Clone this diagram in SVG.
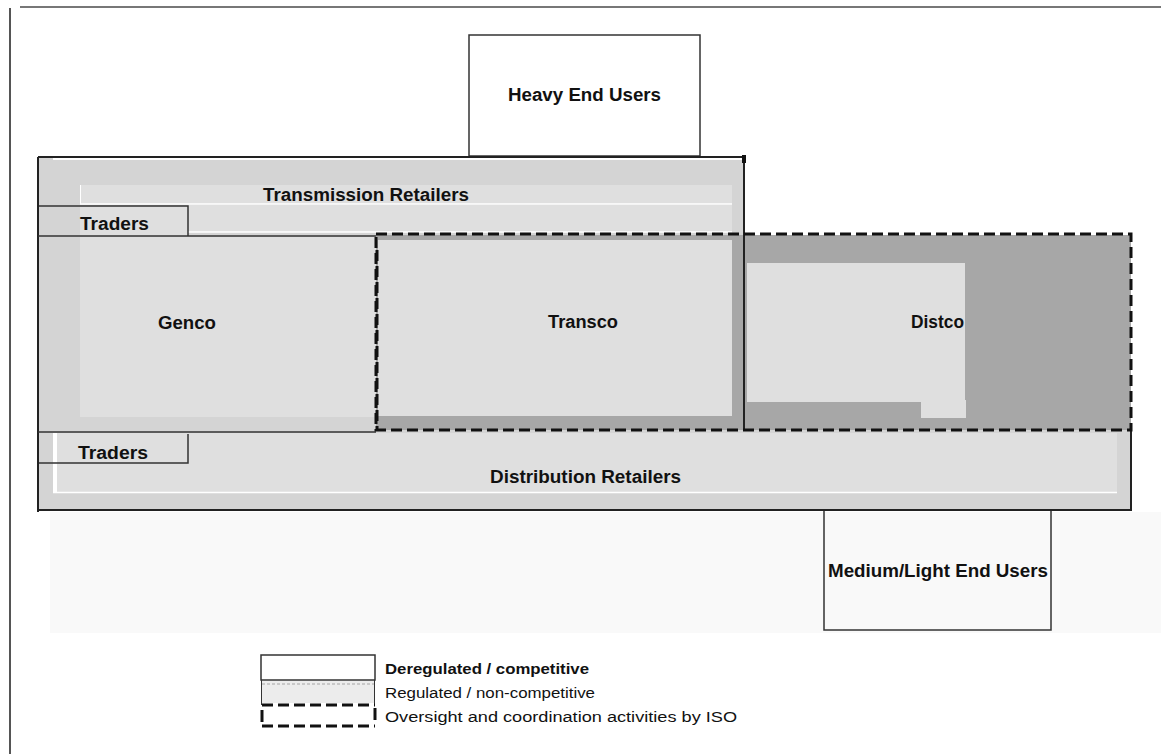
<svg xmlns="http://www.w3.org/2000/svg" width="1161" height="754" viewBox="0 0 1161 754">
<defs>
<style>
.lbl{font-family:"Liberation Sans",Arial,sans-serif;font-weight:bold;font-size:18px;fill:#111}
.leg{font-family:"Liberation Sans",Arial,sans-serif;font-size:14px;fill:#111}
.ln{stroke:#222;stroke-width:2;fill:none}
.thin{stroke:#333;stroke-width:1.5;fill:none}
.dash{stroke:#111;stroke-width:3;fill:none;stroke-dasharray:11 5}
.mott{fill:#d4d4d4}
.light{fill:#dfdfdf}
.dark{fill:#a7a7a7}
</style>
</defs>
<rect x="0" y="0" width="1161" height="754" fill="#ffffff"/>
<rect x="50" y="512" width="1111" height="121" fill="#f9f9f9"/>
<g id="frame">
<line x1="20" y1="7" x2="1161" y2="7" stroke="#777" stroke-width="2"/>
<line x1="10" y1="8" x2="10" y2="754" stroke="#555" stroke-width="2"/>
</g>

<g id="heavy-end-users">
<rect x="469" y="35" width="231" height="121" fill="#fff" class="thin"/>
<text class="lbl" x="508" y="101" textLength="153" lengthAdjust="spacingAndGlyphs">Heavy End Users</text>
</g>

<g id="outer-market">
<rect x="38" y="157" width="707" height="275" class="mott"/>
<rect x="38" y="430" width="1093" height="80" class="mott"/>
<line x1="53" y1="158.5" x2="743" y2="158.5" stroke="#fff" stroke-width="3"/>
</g>

<g id="transmission-retailers">
<rect x="80" y="185" width="652" height="19" class="light"/>
<line x1="80" y1="204" x2="732" y2="204" stroke="#fff" stroke-width="1.5"/>
<line x1="80.5" y1="185" x2="80.5" y2="204" stroke="#fff" stroke-width="1"/>
<rect x="188" y="205" width="544" height="27" class="light"/>
<line x1="188" y1="232" x2="732" y2="232" stroke="#fff" stroke-width="1.5"/>
<text class="lbl" x="263" y="201" textLength="206" lengthAdjust="spacingAndGlyphs">Transmission Retailers</text>
</g>

<g id="traders-top">
<rect x="80" y="206" width="108" height="30" class="light"/>
<path d="M38 206 H188 V236" class="thin"/>
<text class="lbl" x="80" y="230" textLength="69" lengthAdjust="spacingAndGlyphs">Traders</text>
</g>

<g id="genco">
<rect x="80" y="237" width="296" height="180" class="light"/>
<text class="lbl" x="158" y="329" textLength="58" lengthAdjust="spacingAndGlyphs">Genco</text>
</g>

<g id="transco">
<rect x="376" y="235" width="369" height="195" class="dark"/>
<rect x="378" y="240" width="354" height="176" class="light"/>
<text class="lbl" x="548" y="328" textLength="70" lengthAdjust="spacingAndGlyphs">Transco</text>
</g>

<g id="distco">
<rect x="745" y="235" width="386" height="195" class="dark"/>
<rect x="747" y="263" width="218" height="139" class="light"/>
<rect x="921" y="400" width="45" height="18" class="light"/>
<text class="lbl" x="911" y="328" textLength="53" lengthAdjust="spacingAndGlyphs">Distco</text>
</g>

<g id="distribution-retailers">
<rect x="53" y="433" width="1064" height="60" class="light"/>
<rect x="53" y="433" width="4" height="60" fill="#fff"/>
<line x1="53" y1="492.5" x2="1117" y2="492.5" stroke="#fff" stroke-width="1.5"/>
<text class="lbl" x="490" y="483" textLength="191" lengthAdjust="spacingAndGlyphs">Distribution Retailers</text>
</g>

<g id="traders-bottom">
<path d="M38 463 H188 V434" class="thin"/>
<text class="lbl" x="78" y="459" textLength="70" lengthAdjust="spacingAndGlyphs">Traders</text>
</g>

<g id="medium-light-end-users">
<rect x="824" y="510" width="227" height="120" fill="#fff" class="thin"/>
<text class="lbl" x="828" y="577" textLength="220" lengthAdjust="spacingAndGlyphs">Medium/Light End Users</text>
</g>

<g id="connectors">
<path d="M38 157 H745" class="ln"/>
<path d="M38 157 V512" class="ln"/>
<path d="M38 510 H1131 V430" class="ln"/>
<path d="M744 157 V430" class="ln"/>
<rect x="742" y="155" width="4" height="8" fill="#111"/>
<path d="M38 236 H376" class="thin"/>
<path d="M38 432 H376" class="thin"/>
<path d="M377 250 V430" class="dash"/>
<rect x="376" y="234" width="755" height="196" class="dash"/>
</g>

<g id="legend">
<rect x="261" y="655" width="114" height="25" fill="#fff" class="thin"/>
<rect x="262" y="681" width="112" height="22" fill="#ececec"/>
<line x1="262" y1="684" x2="374" y2="684" stroke="#c8c8c8" stroke-width="2" stroke-dasharray="3 2"/>
<line x1="261.5" y1="680" x2="261.5" y2="705" stroke="#333" stroke-width="1"/>
<line x1="374.5" y1="680" x2="374.5" y2="705" stroke="#333" stroke-width="1"/>
<line x1="262" y1="705" x2="375" y2="705" class="dash"/>
<line x1="262" y1="710" x2="262" y2="722" stroke="#111" stroke-width="3"/>
<line x1="375" y1="708" x2="375" y2="720" stroke="#111" stroke-width="3"/>
<line x1="262" y1="726" x2="375" y2="726" class="dash"/>
<text class="leg" x="385" y="674" font-weight="bold" textLength="204" lengthAdjust="spacingAndGlyphs">Deregulated / competitive</text>
<text class="leg" x="385" y="698" textLength="210" lengthAdjust="spacingAndGlyphs">Regulated / non-competitive</text>
<text class="leg" x="385" y="722" textLength="352" lengthAdjust="spacingAndGlyphs">Oversight and coordination activities by ISO</text>
</g>
</svg>
